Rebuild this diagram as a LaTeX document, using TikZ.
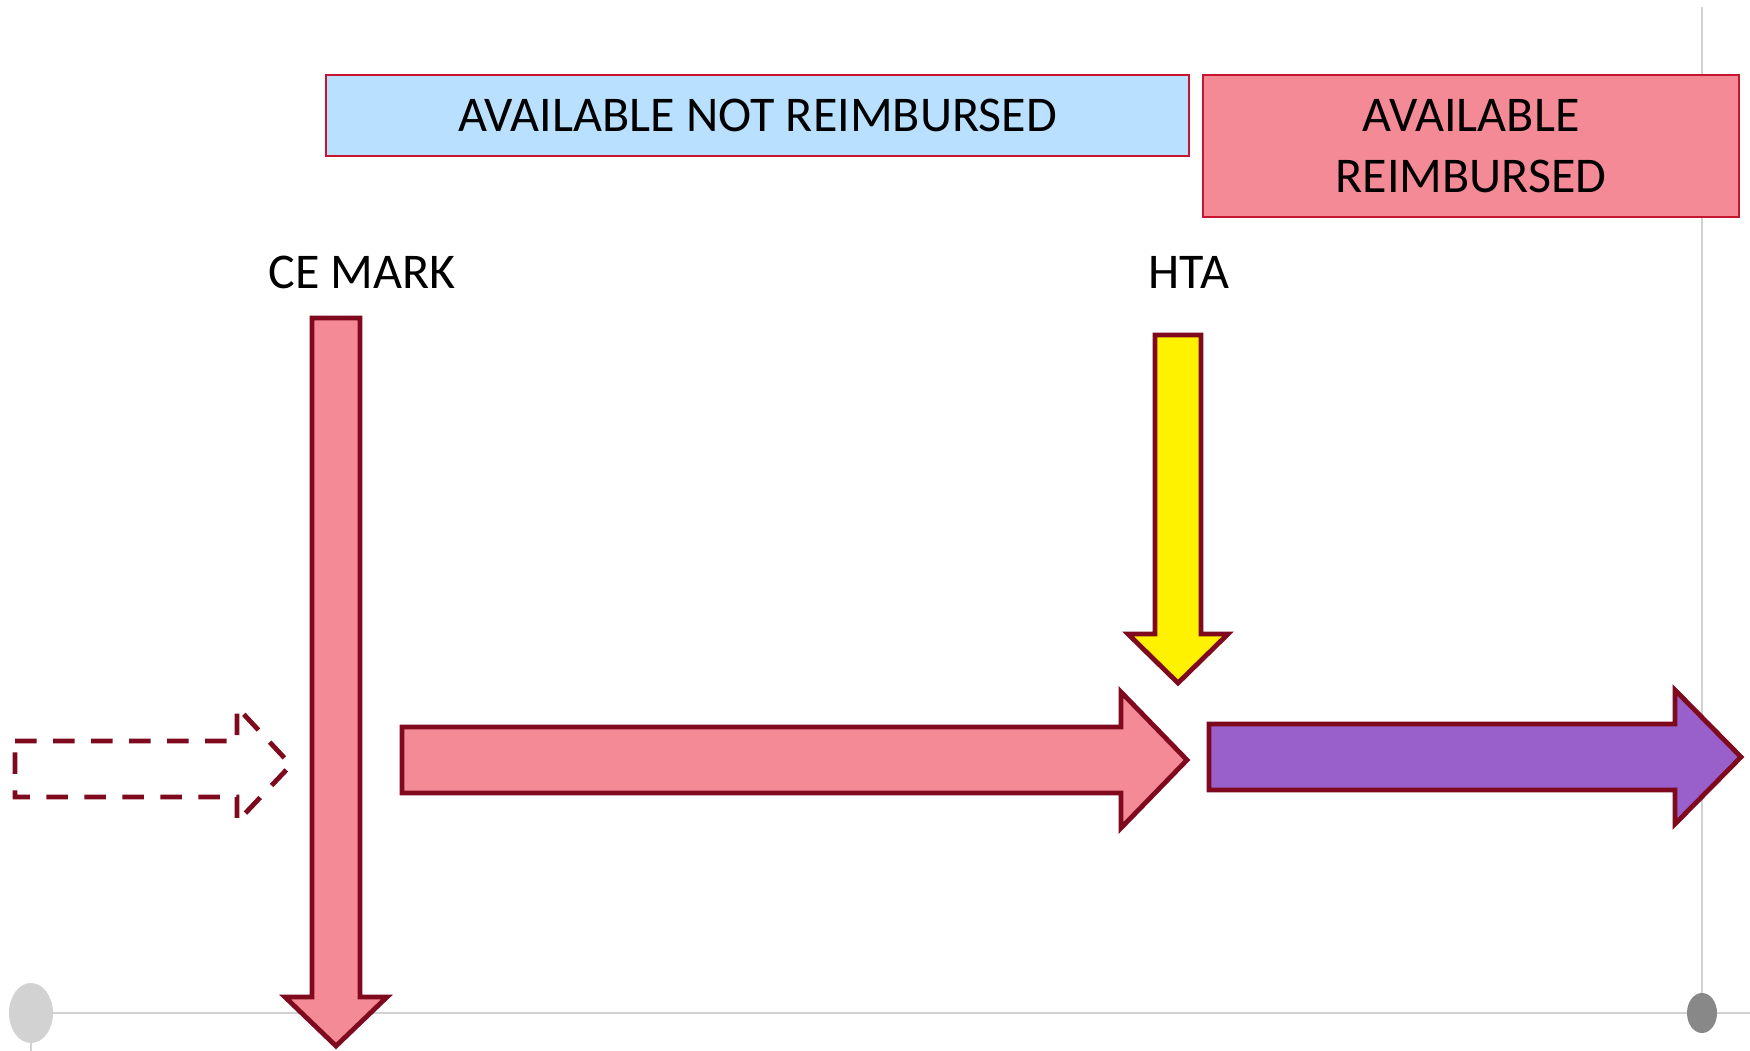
\documentclass[tikz,border=0pt]{standalone}
\usepackage{fontspec}
\setmainfont{Carlito}
\definecolor{edgered}{HTML}{7F0A1E}
\definecolor{boxline}{HTML}{C8142E}
\definecolor{rosefill}{HTML}{F38A95}
\definecolor{skyfill}{HTML}{B9E1FF}
\definecolor{violetfill}{HTML}{9960CC}
\definecolor{axisgray}{HTML}{D2D2D2}
\definecolor{dotgray}{HTML}{888888}
\begin{document}
\begin{tikzpicture}[x=1pt,y=-1pt,
  axisline/.style={draw=axisgray,line width=2pt},
  bigarrow/.style={draw=edgered,line width=4.8pt,miter limit=10},
  phasebox/.style={draw=boxline,line width=1.8pt,inner sep=0pt,align=center,
    font=\fontsize{50}{61}\selectfont},
  milestone/.style={inner sep=0pt,font=\fontsize{50}{61}\selectfont}]
\useasboundingbox (0,0) rectangle (1750,1051);
\fill[white] (0,0) rectangle (1750,1051);

% time axis
\draw[axisline] (31,1013) -- (1750,1013);
\draw[axisline] (1702,7) -- (1702,1013);
\draw[axisline] (31,1013) -- (31,1051);
\fill[axisgray] (31,1013) ellipse [x radius=22, y radius=30];
\fill[dotgray] (1702,1013) ellipse [x radius=15, y radius=20];

% phase boxes
\node[phasebox,fill=skyfill,minimum width=863pt,minimum height=81pt]
  (notreimb) at (757.5,115.5) {AVAILABLE NOT REIMBURSED};
\node[phasebox,fill=rosefill,minimum width=536pt,minimum height=142pt]
  (reimb) at (1471,146) {AVAILABLE\\REIMBURSED};

% milestone labels
\node[milestone] (ce) at (362,272) {CE MARK};
\node[milestone] (hta) at (1189,272) {HTA};

% earlier phase (dashed)
\draw[edgered,line width=4.8pt,dash pattern=on 21.5pt off 16.5pt]
  (15,741) -- (237,741) -- (237,707) -- (291,765) -- (237,822) -- (237,797)
  -- (15,797) -- cycle;

% CE mark arrow
\draw[bigarrow,fill=rosefill]
  (312,318) -- (360,318) -- (360,997) -- (387,997) -- (336,1046)
  -- (285,997) -- (312,997) -- cycle;

% HTA arrow
\draw[bigarrow,fill=yellow]
  (1155,335) -- (1201,335) -- (1201,634) -- (1228,634) -- (1178,683)
  -- (1128,634) -- (1155,634) -- cycle;

% phase arrows
\draw[bigarrow,fill=rosefill]
  (402,727) -- (1121,727) -- (1121,692) -- (1187,760) -- (1121,828)
  -- (1121,793) -- (402,793) -- cycle;
\draw[bigarrow,fill=violetfill]
  (1209,724) -- (1675,724) -- (1675,690) -- (1741,757) -- (1675,824)
  -- (1675,790) -- (1209,790) -- cycle;
\end{tikzpicture}
\end{document}
